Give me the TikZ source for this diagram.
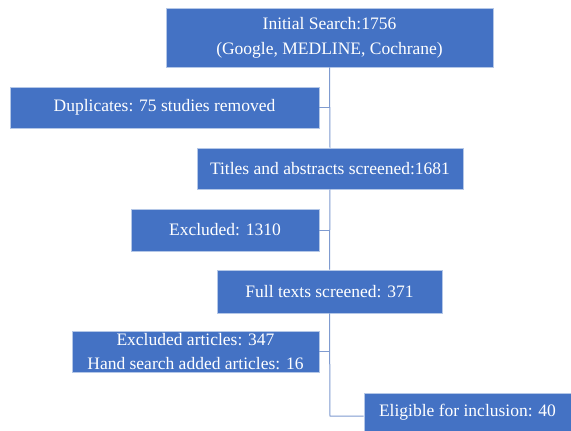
\documentclass[tikz,border=0pt]{standalone}
\usepackage{fontspec}
\setmainfont{Liberation Serif}
\definecolor{boxblue}{HTML}{4472C4}
\definecolor{boxedge}{HTML}{B4C7E7}
\definecolor{linkblue}{HTML}{7F9BD0}
\begin{document}
\begin{tikzpicture}[x=1pt,y=-1pt,
  stage/.style={fill=boxblue, draw=boxedge, line width=0.6pt, text=white,
    align=center, inner sep=0pt, font=\fontsize{17.5}{25}\selectfont},
  link/.style={draw=linkblue, line width=1pt}]
\useasboundingbox (0,0) rectangle (571,431);
\fill[white] (0,0) rectangle (571,431);

\node[stage, minimum width=327pt, minimum height=59pt] (search) at (329.5,37.5)
  {Initial Search:1756\\(Google, MEDLINE, Cochrane)};
\node[stage, minimum width=309pt, minimum height=41pt] (dup) at (164.5,107.5)
  {Duplicates: 75 studies removed};
\node[stage, minimum width=266pt, minimum height=41pt] (titles) at (330,168.5)
  {Titles and abstracts screened:1681};
\node[stage, minimum width=188pt, minimum height=42pt] (excl) at (225,230)
  {Excluded: 1310};
\node[stage, minimum width=225pt, minimum height=43pt] (full) at (329.5,291.5)
  {Full texts screened: 371};
\node[stage, minimum width=247pt, minimum height=41pt, font=\fontsize{17.5}{24}\selectfont] (hand) at (195.5,351.5)
  {Excluded articles: 347\\Hand search added articles: 16};
\node[stage, minimum width=207pt, minimum height=38pt] (elig) at (467.5,412)
  {Eligible for inclusion: 40};

\coordinate (bend) at (330,416);

\draw[link] (search.south) -- (titles.north);
\draw[link] (titles.south) -- (full.north);
\draw[link] (full.south) -- (bend) -- (bend -| elig.west);
\draw[link] (dup.east) -- (dup.east -| search.south);
\draw[link] (excl.east) -- (excl.east -| search.south);
\draw[link] (hand.east) -- (hand.east -| search.south);
\end{tikzpicture}
\end{document}
